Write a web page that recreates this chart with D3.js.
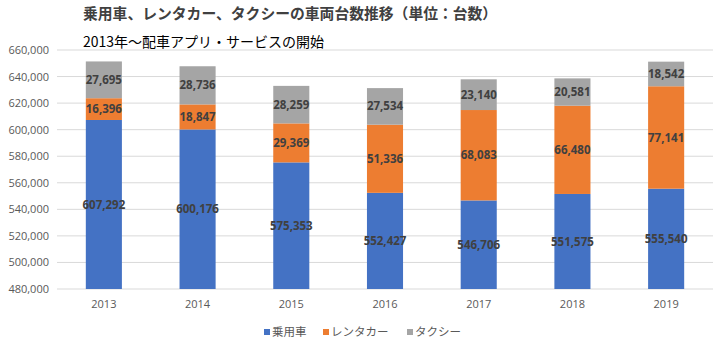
<!DOCTYPE html>
<html>
<head>
<meta charset="utf-8">
<script src="https://cdn.jsdelivr.net/npm/d3@7"></script>
<style>
  body { margin: 0; background: #fff; }
  text { font-family: "Noto Sans CJK JP", "Noto Sans", sans-serif; }
</style>
</head>
<body>
<svg width="720" height="349"></svg>
<script>
const years = ["2013", "2014", "2015", "2016", "2017", "2018", "2019"];
const seriesNames = ["乗用車", "レンタカー", "タクシー"];
const passenger = [607292, 600176, 575353, 552427, 546706, 551575, 555540];
const rental = [16396, 18847, 29369, 51336, 68083, 66480, 77141];
const taxi = [27695, 28736, 28259, 27534, 23140, 20581, 18542];
const yTicks = [480000, 500000, 520000, 540000, 560000, 580000, 600000, 620000, 640000, 660000];
const colors = ["#4472C4", "#ED7D31", "#A5A5A5"];

const svg = d3.select("svg");
const plot = {left: 57, right: 713, top: 50, bottom: 289};
const yMin = 480000;

// rows for the stack
const rows = years.map((y, i) => ({year: y, "乗用車": passenger[i], "レンタカー": rental[i], "タクシー": taxi[i]}));
const stacked = d3.stack().keys(seriesNames)(rows);

const x = d3.scaleBand().domain(years).range([plot.left, plot.right]).paddingInner(0.615).paddingOuter(0.3075);
const y = d3.scaleLinear().domain([480000, 660000]).range([plot.bottom, plot.top]);

// titles
svg.append("text")
  .attr("x", 83).attr("y", 19)
  .attr("font-size", "14.8px").attr("font-weight", "bold").attr("fill", "#404040")
  .text("乗用車、レンタカー、タクシーの車両台数推移（単位：台数）");
svg.append("text")
  .attr("x", 83).attr("y", 47)
  .attr("font-size", "14px").attr("fill", "#000")
  .text("2013年～配車アプリ・サービスの開始");

// gridlines
svg.append("g").selectAll("line").data(yTicks).enter().append("line")
  .attr("x1", plot.left).attr("x2", plot.right)
  .attr("y1", d => y(d)).attr("y2", d => y(d))
  .attr("stroke", "#d9d9d9").attr("stroke-width", 1);

// y axis labels
const yAxis = d3.axisLeft(y).tickValues(yTicks).tickFormat(d3.format(",")).tickSize(0).tickPadding(8);
const gy = svg.append("g").attr("transform", `translate(${plot.left},0)`).call(yAxis);
gy.select(".domain").remove();
gy.selectAll("text").attr("font-size", "11px").attr("fill", "#595959")
  .style("font-family", "'Open Sans', 'Noto Sans', sans-serif");

// x axis labels
const xAxis = d3.axisBottom(x).tickSize(0).tickPadding(11);
const gx = svg.append("g").attr("transform", `translate(0,${plot.bottom})`).call(xAxis);
gx.select(".domain").remove();
gx.selectAll("text").attr("font-size", "11px").attr("fill", "#595959")
  .style("font-family", "'Open Sans', 'Noto Sans', sans-serif");

// bars
const layers = svg.append("g").selectAll("g").data(stacked).enter().append("g")
  .attr("fill", (d, i) => colors[i]);
layers.selectAll("rect").data(d => d).enter().append("rect")
  .attr("x", d => x(d.data.year))
  .attr("width", x.bandwidth())
  .attr("y", d => y(d[1]))
  .attr("height", d => y(Math.max(d[0], yMin)) - y(d[1]));

// value labels, centred on the visible part of each segment
layers.each(function(layer) {
  d3.select(this).selectAll("text").data(layer).enter().append("text")
    .attr("x", d => x(d.data.year) + x.bandwidth() / 2)
    .attr("y", d => y((Math.max(d[0], yMin) + d[1]) / 2))
    .attr("dy", "0.35em")
    .attr("text-anchor", "middle")
    .attr("font-size", "11.5px").attr("font-weight", "bold").attr("fill", "#404040")
    .style("font-family", "'Open Sans', 'Noto Sans', sans-serif")
    .text(d => d3.format(",")(d[1] - d[0]));
});

// legend
const legendX = [264, 323, 407];
const legend = svg.append("g").selectAll("g").data(seriesNames).enter().append("g")
  .attr("transform", (d, i) => `translate(${legendX[i]},332)`);
legend.append("rect").attr("x", 0).attr("y", -3).attr("width", 6).attr("height", 6)
  .attr("fill", (d, i) => colors[i]);
legend.append("text").attr("x", 8).attr("y", 0).attr("dy", "0.35em")
  .attr("font-size", "11.5px").attr("fill", "#595959")
  .text(d => d);
</script>
</body>
</html>
